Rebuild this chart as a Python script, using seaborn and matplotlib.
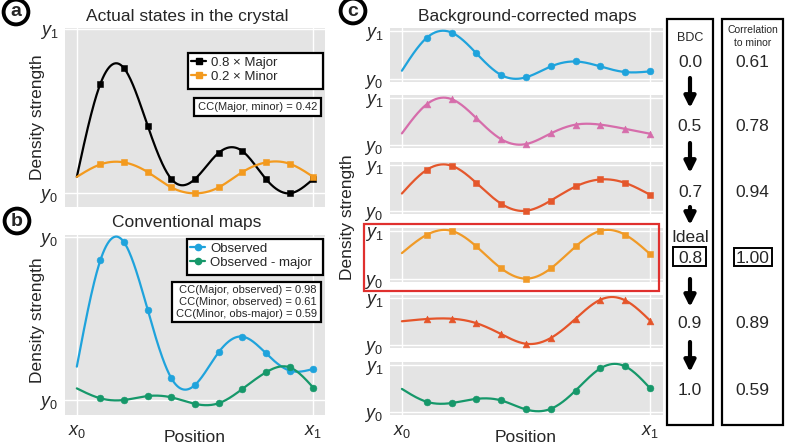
import numpy as np
import matplotlib
matplotlib.use("Agg")
import matplotlib.pyplot as plt
import seaborn as sns
from matplotlib.transforms import Affine2D
from matplotlib.patches import Rectangle, FancyArrowPatch
from matplotlib.lines import Line2D

# positions along the map (x0 .. x1)
positions = np.arange(11)

# panel a: actual states
major_08 = [0.10, 0.667, 0.76, 0.41, 0.087, 0.087, 0.246, 0.257, 0.087, 0.0, 0.087]
minor_02 = [0.10, 0.176, 0.188, 0.129, 0.036, 0.0, 0.036, 0.129, 0.188, 0.18, 0.10]

# panel b: conventional maps
observed = [0.204, 0.857, 0.965, 0.551, 0.133, 0.092, 0.292, 0.388, 0.286, 0.18, 0.19]
obs_minus_major = [0.071, 0.010, 0.0, 0.024, 0.016, -0.024, -0.020, 0.067, 0.169, 0.20, 0.076]

# panel c: background-corrected maps
map_bdc_00 = [0.166, 0.855, 0.965, 0.53, 0.076, 0.028, 0.255, 0.359, 0.255, 0.138, 0.152]
map_bdc_05 = [0.241, 0.862, 0.972, 0.566, 0.117, 0.014, 0.241, 0.428, 0.428, 0.338, 0.234]
map_bdc_07 = [0.375, 0.889, 0.979, 0.604, 0.153, 0.0, 0.222, 0.528, 0.681, 0.604, 0.347]
map_bdc_08 = [0.535, 0.917, 1.0, 0.674, 0.215, 0.0, 0.215, 0.674, 1.0, 0.917, 0.514]
map_bdc_09 = [0.50, 0.548, 0.555, 0.459, 0.226, 0.02, 0.144, 0.555, 0.96, 0.945, 0.514]
map_bdc_10 = [0.486, 0.212, 0.185, 0.274, 0.24, 0.048, 0.062, 0.452, 0.925, 0.966, 0.50]

bdc_labels = ["0.0", "0.5", "0.7", "0.8", "0.9", "1.0"]
corr_to_minor = ["0.61", "0.78", "0.94", "1.00", "0.89", "0.59"]

c_maps = [map_bdc_00, map_bdc_05, map_bdc_07, map_bdc_08, map_bdc_09, map_bdc_10]
c_colors = ["#1FA3DC", "#D66DAB", "#E4572C", "#F09A27", "#E5552A", "#16986A"]
c_markers = ["o", "^", "s", "s", "^", "o"]


def smooth(x, y, n=300):
    # natural cubic spline through the points, for drawing the curve
    x = np.asarray(x, float)
    y = np.asarray(y, float)
    h = np.diff(x)
    k = len(x)
    A = np.zeros((k, k))
    r = np.zeros(k)
    A[0, 0] = A[-1, -1] = 1
    for i in range(1, k - 1):
        A[i, i - 1] = h[i - 1]
        A[i, i] = 2 * (h[i - 1] + h[i])
        A[i, i + 1] = h[i]
        r[i] = 6 * ((y[i + 1] - y[i]) / h[i] - (y[i] - y[i - 1]) / h[i - 1])
    M = np.linalg.solve(A, r)
    xs = np.linspace(x[0], x[-1], n)
    idx = np.clip(np.searchsorted(x, xs) - 1, 0, k - 2)
    x0, x1, hh = x[idx], x[idx + 1], h[idx]
    ys = (M[idx] * (x1 - xs) ** 3 / (6 * hh) + M[idx + 1] * (xs - x0) ** 3 / (6 * hh)
          + (y[idx] / hh - M[idx] * hh / 6) * (x1 - xs)
          + (y[idx + 1] / hh - M[idx + 1] * hh / 6) * (xs - x0))
    return xs, ys


sns.set_theme(style="darkgrid", rc={"axes.facecolor": "#E4E4E4", "grid.color": "white",
                                    "grid.linewidth": 1.0})
plt.rcParams["font.family"] = ["Liberation Sans", "DejaVu Sans"]
plt.rcParams["mathtext.fontset"] = "custom"
plt.rcParams["mathtext.it"] = "Liberation Sans:italic"
plt.rcParams["mathtext.rm"] = "Liberation Sans"

W, H = 788, 446
fig = plt.figure(figsize=(W / 100, H / 100), dpi=100)
T = Affine2D().scale(1 / W, -1 / H).translate(0, 1) + fig.transFigure


def add_ax(x0, y0, x1, y1):
    return fig.add_axes([x0 / W, 1 - y1 / H, (x1 - x0) / W, (y1 - y0) / H])


def draw(ax, vals, color, marker):
    xs, ys = smooth(positions, vals)
    sns.lineplot(x=xs, y=ys, ax=ax, color=color, lw=1.6)
    sns.scatterplot(x=positions[1:], y=np.asarray(vals)[1:], ax=ax, color=color,
                    marker=marker, s=24, edgecolor=color, linewidth=0.4, zorder=3)


def style(ax, xlim, ylim, ylabels, xlabels=None, size=13):
    ax.set_xlim(*xlim)
    ax.set_ylim(*ylim)
    ax.set_xticks([0, 10])
    ax.set_yticks([0, 1])
    ax.set_yticklabels(ylabels, fontsize=size)
    if xlabels:
        ax.set_xticklabels(xlabels, fontsize=13)
        ax.tick_params(axis="x", length=3, color="#555555", pad=3)
    else:
        ax.set_xticklabels(["", ""])
        ax.tick_params(axis="x", length=0)
    ax.tick_params(axis="y", length=3, color="#555555", pad=2)
    ax.set_xlabel("")
    ax.set_ylabel("")
    for s in ax.spines.values():
        s.set_visible(False)


def key(color, marker):
    return Line2D([], [], color=color, marker=marker, lw=1.6, ms=4.5)


# ---- panel a
ax_a = add_ax(65, 28, 325, 207)
draw(ax_a, major_08, "black", "s")
draw(ax_a, minor_02, "#F39A1E", "s")
style(ax_a, (-0.5, 10.5), (-0.083, 1.005), ["$y_0$", "$y_1$"])
ax_a.add_patch(Rectangle((188, 53), 135, 36, transform=T, fc="white", ec="black",
                         lw=1.6, zorder=4, clip_on=False))
ax_a.legend([key("black", "s"), key("#F39A1E", "s")], ["0.8 × Major", "0.2 × Minor"],
            loc="upper left", bbox_to_anchor=(190, 55), bbox_transform=T, frameon=False,
            fontsize=9.5, handlelength=1.1, handletextpad=0.4, borderpad=0.1,
            labelspacing=0.15, borderaxespad=0)
ax_a.text(317, 107, "CC(Major, minor) = 0.42", transform=T, ha="right", va="center",
          fontsize=8, zorder=6,
          bbox=dict(boxstyle="square,pad=0.35", fc="white", ec="black", lw=1.6))

# ---- panel b
ax_b = add_ax(65, 235, 325, 415)
draw(ax_b, observed, "#1FA3DC", "o")
draw(ax_b, obs_minus_major, "#16986A", "o")
style(ax_b, (-0.5, 10.5), (-0.092, 1.01), ["$y_0$", "$y_0$"], ["$x_0$", "$x_1$"])
ax_b.add_patch(Rectangle((187, 239), 136, 36, transform=T, fc="white", ec="black",
                         lw=1.6, zorder=4, clip_on=False))
ax_b.legend([key("#1FA3DC", "o"), key("#16986A", "o")], ["Observed", "Observed - major"],
            loc="upper left", bbox_to_anchor=(189, 241), bbox_transform=T, frameon=False,
            fontsize=9.5, handlelength=1.1, handletextpad=0.4, borderpad=0.1,
            labelspacing=0.15, borderaxespad=0)
ax_b.text(317, 302, "CC(Major, observed) = 0.98\nCC(Minor, observed) = 0.61\nCC(Minor, obs-major) = 0.59",
          transform=T, ha="right", va="center", fontsize=8, zorder=6, linespacing=1.2,
          multialignment="right",
          bbox=dict(boxstyle="square,pad=0.35", fc="white", ec="black", lw=1.6))

# ---- panel c
rows = [(28, 82), (95, 148), (162, 214), (228, 282), (295, 348), (362, 415)]
for i, (top, bottom) in enumerate(rows):
    ax = add_ax(390, top, 663, bottom)
    draw(ax, c_maps[i], c_colors[i], c_markers[i])
    xl = ["$x_0$", "$x_1$"] if i == len(rows) - 1 else None
    style(ax, (-0.48, 10.52), (-0.07, 1.06), ["$y_0$", "$y_1$"], xl)

fig.add_artist(Rectangle((364, 224), 295, 67, transform=T, fill=False, ec="#E0302E", lw=1.6))

# ---- labels and titles
def ftext(x, y, s, **kw):
    fig.text(x, y, s, transform=T, ha=kw.pop("ha", "center"), va=kw.pop("va", "center"), **kw)

ftext(187, 16, "Actual states in the crystal", fontsize=12.5)
ftext(187, 223, "Conventional maps", fontsize=12.5)
ftext(527, 16, "Background-corrected maps", fontsize=12.5)
ftext(38, 117, "Density strength", fontsize=12.5, rotation=90)
ftext(38, 320, "Density strength", fontsize=12.5, rotation=90)
ftext(348, 217, "Density strength", fontsize=12.5, rotation=90)
ftext(195, 437, "Position", fontsize=12.5)
ftext(526, 437, "Position", fontsize=12.5)

circ = dict(boxstyle="circle,pad=0.2", fc="white", ec="black", lw=2.8)
ftext(16, 12, "a", fontsize=14, fontweight="bold", bbox=circ)
ftext(17, 221, "b", fontsize=14, fontweight="bold", bbox=circ)
ftext(353, 11, "c", fontsize=14, fontweight="bold", bbox=circ)

# ---- BDC and correlation columns
fig.add_artist(Rectangle((667, 19), 46, 406, transform=T, fill=False, ec="black", lw=1.6))
fig.add_artist(Rectangle((722, 19), 61, 406, transform=T, fill=False, ec="black", lw=1.6))
ftext(690, 38, "BDC", fontsize=9)
ftext(752.5, 30, "Correlation", fontsize=7.5)
ftext(752.5, 43, "to minor", fontsize=7.5)
value_y = [61, 125, 191, 257, 322, 389]
for lab, cor, yy in zip(bdc_labels, corr_to_minor, value_y):
    ftext(690, yy + 6, lab, fontsize=12.5, va="baseline")
    ftext(752.5, yy + 6, cor, fontsize=12.5, va="baseline")
ftext(690, 242, "Ideal", fontsize=12.5, va="baseline")
fig.add_artist(Rectangle((673, 247), 33, 19, transform=T, fill=False, ec="black", lw=1.4))
fig.add_artist(Rectangle((734, 248), 38, 18, transform=T, fill=False, ec="black", lw=1.4))
for a0, a1 in [(78, 108), (143, 173), (207, 225), (279, 307), (342, 372)]:
    fig.add_artist(FancyArrowPatch((690, a0), (690, a1), transform=T,
                                   arrowstyle="-|>,head_length=0.6,head_width=0.3",
                                   mutation_scale=11, color="black", lw=3,
                                   shrinkA=0, shrinkB=0))

fig.savefig("out.png", dpi=100)
